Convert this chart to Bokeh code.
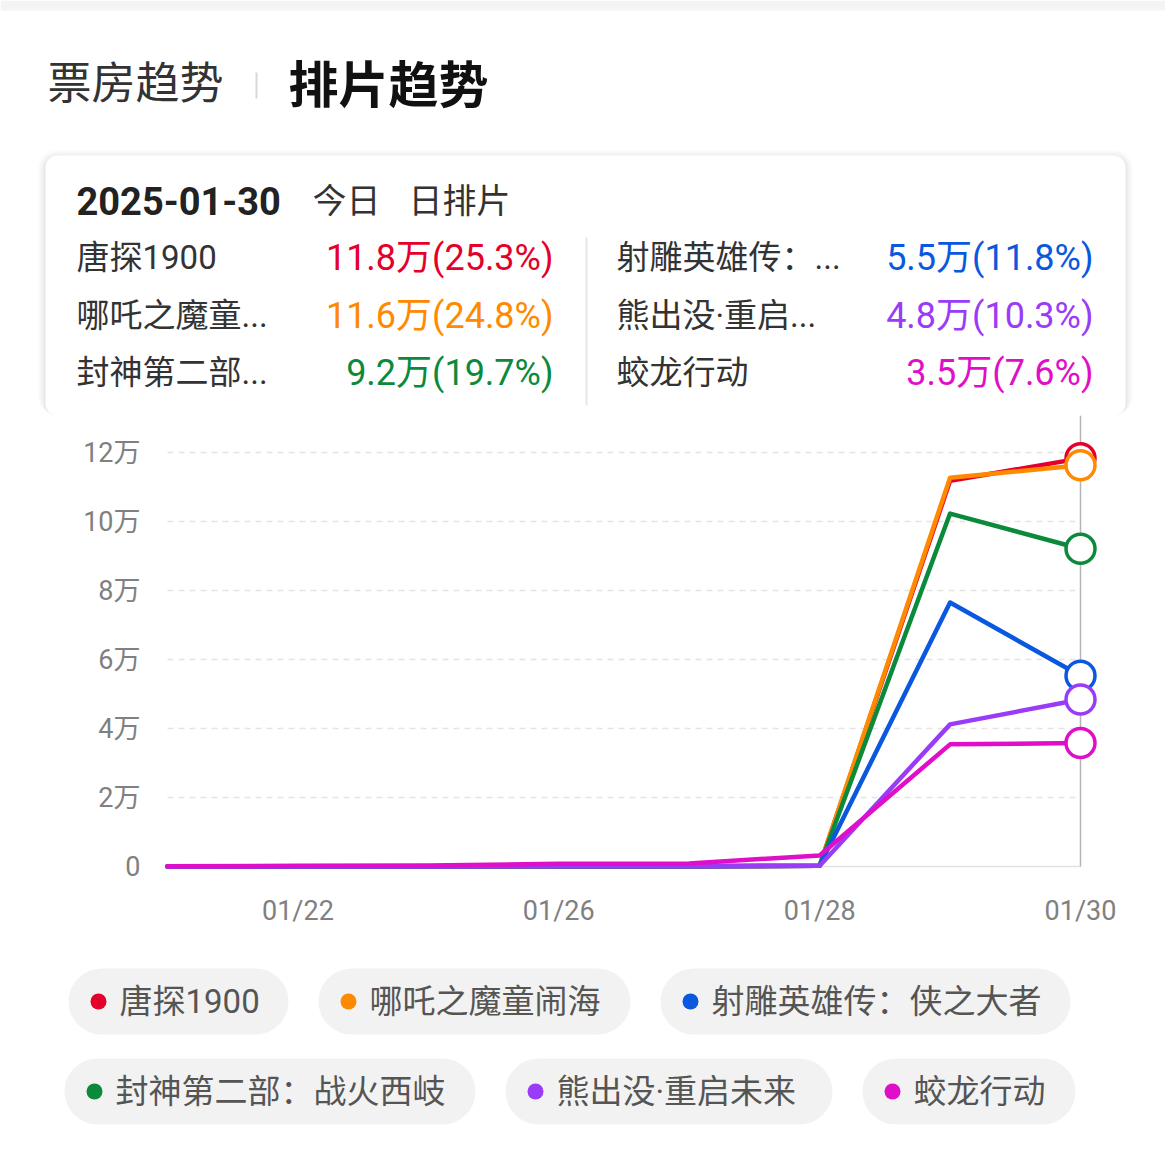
from bokeh.plotting import figure
from bokeh.models import Range1d, FixedTicker, BoxAnnotation, Label
from bokeh.embed import file_html
from bokeh.resources import INLINE

# ---------------- data ----------------
dates = ["01/21", "01/22", "01/24", "01/26", "01/27", "01/28", "01/29", "01/30"]
names = ["唐探1900", "哪吒之魔童闹海", "封神第二部：战火西岐", "射雕英雄传：侠之大者", "熊出没·重启未来", "蛟龙行动"]
short_names = ["唐探1900", "哪吒之魔童...", "封神第二部...", "射雕英雄传：...", "熊出没·重启...", "蛟龙行动"]
colors = ["#e4002b", "#ff8a00", "#0b8a3c", "#0a58e0", "#9a3cf7", "#e00ec8"]

tangtan = [0.0, 0.0, 0.0, 0.01, 0.01, 0.02, 11.18, 11.83]
nezha = [0.0, 0.0, 0.0, 0.01, 0.01, 0.02, 11.27, 11.63]
fengshen = [0.0, 0.0, 0.0, 0.01, 0.01, 0.02, 10.23, 9.21]
shediao = [0.0, 0.0, 0.0, 0.01, 0.01, 0.02, 7.65, 5.53]
xiongchumo = [0.0, 0.0, 0.0, 0.01, 0.01, 0.02, 4.12, 4.84]
jiaolong = [0.01, 0.02, 0.03, 0.08, 0.09, 0.32, 3.54, 3.58]
series = [tangtan, nezha, fengshen, shediao, xiongchumo, jiaolong]

tip_date = "2025-01-30"
tip_values = [11.8, 11.6, 9.2, 5.5, 4.8, 3.5]
tip_pct = [25.3, 24.8, 19.7, 11.8, 10.3, 7.6]

y_ticks = [0, 2, 4, 6, 8, 10, 12]
y_tick_labels = ["0", "2万", "4万", "6万", "8万", "10万", "12万"]
x_tick_idx = [1, 3, 5, 7]

FONT = "Roboto, Noto Sans CJK SC"
W = 1165
ML = 147
FW = 952
MR = W - ML - FW


def bare(p):
    p.xgrid.visible = False
    p.ygrid.visible = False
    p.outline_line_color = None
    p.background_fill_color = "white"
    p.border_fill_color = "white"


def panel(h):
    p = figure(width=W, height=h, x_range=Range1d(0, W), y_range=Range1d(0, h),
               x_axis_type=None, y_axis_type=None, toolbar_location=None, output_backend="svg",
               min_border=0)
    bare(p)
    return p


def box(p, l, r, t, b, color, alpha=1.0, radius=0):
    p.add_layout(BoxAnnotation(left=l, right=r, top=t, bottom=b, fill_color=color, fill_alpha=alpha,
                               line_color=None, border_radius=radius))


def label(p, x, y, text, size, color, align="left", style="normal"):
    p.add_layout(Label(x=x, y=y, text=text, text_font=FONT, text_font_size=size, text_color=color,
                       text_align=align, text_baseline="middle", text_font_style=style))


# ---------------- header ----------------
H1 = 415
p_h = panel(H1)
fy1 = lambda ry: H1 - ry

box(p_h, 0, W, fy1(0), fy1(10), "#f4f4f4")
label(p_h, 47, fy1(83), "票房趋势", "44px", "#333333")
box(p_h, 255, 257, fy1(72), fy1(98), "#d8d8d8")
label(p_h, 288, fy1(85), "排片趋势", "50px", "#111111", style="bold")

bx0, bx1, by0, by1 = 45, 1125, 155, 415
for e, a in [(8, 0.012), (6, 0.018), (4, 0.025), (2, 0.035)]:
    box(p_h, bx0 - e, bx1 + e, fy1(by0 - e + 2), fy1(by1), "#000000", a, 12 + e)
box(p_h, bx0, bx1, fy1(by0), fy1(by1), "white", 1.0, 12)

label(p_h, 76, fy1(200), tip_date, "38px", "#222222", style="bold")
label(p_h, 312, fy1(200), "今日", "34px", "#333333")
label(p_h, 408, fy1(200), "日排片", "34px", "#333333")

row_y = [257, 315, 372]
for i in range(6):
    col = i // 3
    r = i % 3
    nx = 76 if col == 0 else 616
    vx = 553 if col == 0 else 1093
    label(p_h, nx, fy1(row_y[r]), short_names[i], "33px", "#333333")
    label(p_h, vx, fy1(row_y[r]), f"{tip_values[i]}万({tip_pct[i]}%)", "36px", colors[i], align="right")
box(p_h, 585, 587, fy1(237), fy1(405), "#e6e6e6")

# ---------------- chart ----------------
FH = 461
MB = 69
TOP = 415
px_per_x = (1080 - 167) / (len(dates) - 1)
x_start = -(167 - ML) / px_per_x
x_end = (len(dates) - 1) + ((ML + FW) - 1080) / px_per_x
px_per_y = (866 - 452) / 12.0
y_end = (866 - TOP) / px_per_y
y_start = -(TOP + FH - 866) / px_per_y

p_c = figure(frame_width=FW, frame_height=FH, x_range=Range1d(x_start, x_end), y_range=Range1d(y_start, y_end),
             toolbar_location=None, output_backend="svg",
             min_border_left=ML, min_border_right=MR, min_border_top=0, min_border_bottom=MB)
bare(p_c)
xs = list(range(len(dates)))

for ax in (p_c.xaxis[0], p_c.yaxis[0]):
    ax.axis_line_color = None
    ax.major_tick_line_color = None
    ax.minor_tick_line_color = None
    ax.major_tick_out = 0
    ax.major_tick_in = 0
    ax.major_label_text_font = FONT
    ax.major_label_text_font_size = "27px"
    ax.major_label_text_color = "#808080"
p_c.xaxis.ticker = FixedTicker(ticks=x_tick_idx)
p_c.xaxis.major_label_overrides = {i: dates[i] for i in x_tick_idx}
p_c.xaxis.major_label_standoff = 18
p_c.yaxis.ticker = FixedTicker(ticks=y_ticks)
p_c.yaxis.major_label_overrides = {t: l for t, l in zip(y_ticks, y_tick_labels)}
p_c.yaxis.major_label_standoff = 7

gt = [t for t in y_ticks if t != 0]
p_c.segment(x0=[xs[0]] * len(gt), y0=gt, x1=[xs[-1]] * len(gt), y1=gt,
            line_color="#e4e4e4", line_width=1.5, line_dash="6 5")
p_c.segment(x0=[xs[0]], y0=[0], x1=[xs[-1]], y1=[0], line_color="#e2e2e2", line_width=1.5)
p_c.segment(x0=[xs[-1]], y0=[0], x1=[xs[-1]], y1=[y_end], line_color="#b5b5b5", line_width=1.5)

for vals, c in zip(series, colors):
    p_c.line(xs, vals, line_color=c, line_width=4.5, line_join="round", line_cap="round")
for vals, c in zip(series, colors):
    p_c.scatter([xs[-1]], [vals[-1]], size=29, fill_color="white", line_color=c, line_width=3.5)

# ---------------- legend ----------------
H3 = 215
OFF3 = 945
p_l = panel(H3)
fy3 = lambda ry: H3 - (ry - OFF3)
pills = [(68, 288, 1001), (318, 630, 1001), (660, 1070, 1001),
         (64, 475, 1091), (505, 832, 1091), (862, 1075, 1091)]
order = [0, 1, 3, 2, 4, 5]
for (l, r, cy), i in zip(pills, order):
    box(p_l, l, r, fy3(cy - 33), fy3(cy + 33), "#f2f2f2", 1.0, 33)
    box(p_l, l + 22, l + 38, fy3(cy - 8), fy3(cy + 8), colors[i], 1.0, 8)
    label(p_l, l + 51, fy3(cy), names[i], "33px", "#555555")

open("out.html", "w").write(file_html((p_h, p_c, p_l), INLINE))
